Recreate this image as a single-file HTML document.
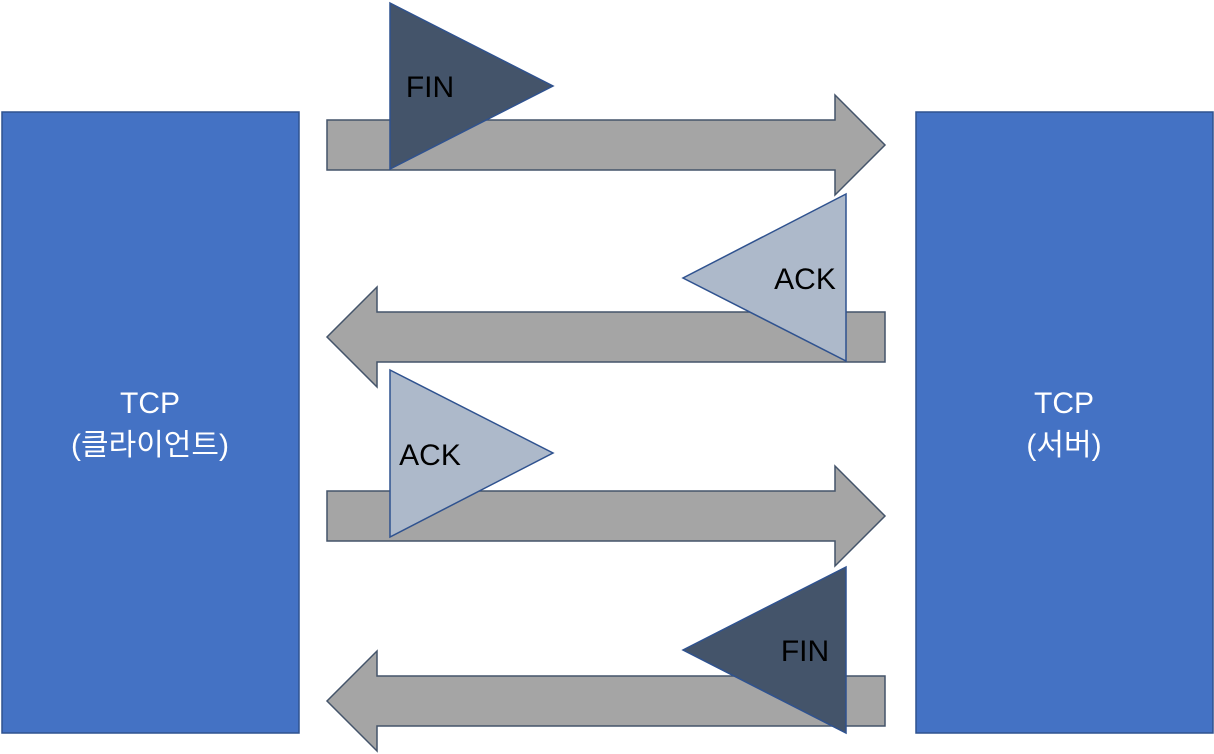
<!DOCTYPE html>
<html><head><meta charset="utf-8"><style>
html,body{margin:0;padding:0;background:#fff;}
svg{display:block;}
text{font-family:"Liberation Sans","Noto Sans CJK KR",sans-serif;}
</style></head><body>
<svg width="1214" height="754" viewBox="0 0 1214 754" xmlns="http://www.w3.org/2000/svg">
<rect x="2" y="112" width="297" height="621" fill="#4472C4" stroke="#2F528F" stroke-width="1.5"/>
<rect x="916" y="112" width="297" height="621" fill="#4472C4" stroke="#2F528F" stroke-width="1.5"/>
<g fill="#fff" font-size="30" text-anchor="middle">
<text x="150" y="413">TCP</text>
<text x="150" y="455">(클라이언트)</text>
<text x="1064" y="413">TCP</text>
<text x="1064" y="455">(서버)</text>
</g>
<g fill="#A5A5A5" stroke="#44546A" stroke-width="1.5">
<polygon points="327,120 835,120 835,95 885,145 835,195 835,170 327,170"/>
<polygon points="885,312 377,312 377,287 327,337 377,387 377,362 885,362"/>
<polygon points="327,491 835,491 835,466 885,516 835,566 835,541 327,541"/>
<polygon points="885,676 377,676 377,651 327,701 377,751 377,726 885,726"/>
</g>
<g stroke="#2F528F" stroke-width="1.5">
<polygon points="390,3 553,86 390,169" fill="#44546A"/>
<polygon points="846,194 683,278 846,361" fill="#ADB9CA"/>
<polygon points="390,370 553,453 390,537" fill="#ADB9CA"/>
<polygon points="846,567 683,650 846,733" fill="#44546A"/>
</g>
<g fill="#000" font-size="30" text-anchor="middle">
<text x="430" y="97">FIN</text>
<text x="805" y="289">ACK</text>
<text x="430" y="465">ACK</text>
<text x="805" y="661">FIN</text>
</g>
</svg>
</body></html>
